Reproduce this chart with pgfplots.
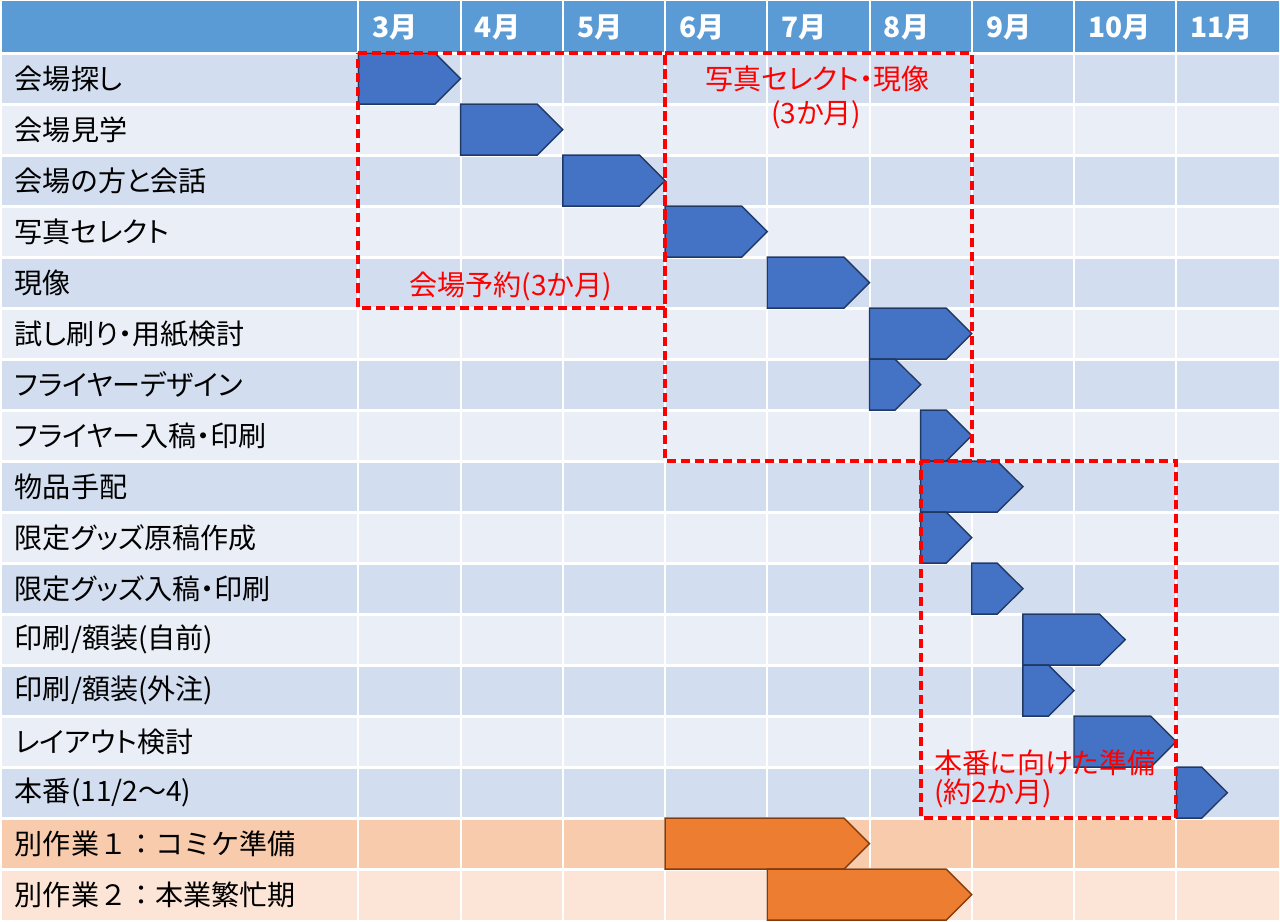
\documentclass[border=0pt]{standalone}
\usepackage{fontspec}
\setmainfont{Noto Sans CJK JP}[RawFeature=+palt]
\newfontfamily\jpfw{Noto Sans CJK JP}
\usepackage{pgfplots}
\pgfplotsset{compat=1.18}
\definecolor{hdr}{HTML}{5B9BD5}
\definecolor{rowA}{HTML}{D2DEEF}
\definecolor{rowB}{HTML}{EAEFF7}
\definecolor{orA}{HTML}{F8CBAD}
\definecolor{orB}{HTML}{FCE4D6}
\definecolor{barB}{HTML}{4472C4}
\definecolor{barBe}{HTML}{203864}
\definecolor{barO}{HTML}{ED7D31}
\definecolor{barOe}{HTML}{843C0C}
\definecolor{redl}{HTML}{FF0000}
\tikzset{rl/.style={inner sep=0pt,text=redl,font=\fontsize{14pt}{16pt}\selectfont},
  tl/.style={anchor=west,inner sep=0pt,font=\fontsize{14pt}{16pt}\selectfont,text=black}}
\newcommand\lab[2]{\node[tl] at (axis cs:-3.363,#1-0.5) {#2};}
\begin{document}
\begin{tikzpicture}
\begin{axis}[width=640pt,height=463.5pt,scale only axis,
  xmin=-3.5098,xmax=9.039,ymin=-1.022,ymax=17.197,y dir=reverse,
  axis lines=none,ticks=none,clip=false,
  bluebar/.style={fill=barB,draw=barBe,line width=0.7pt,line join=miter,mark=none},
  orangebar/.style={fill=barO,draw=barOe,line width=0.7pt,line join=miter,mark=none},
  redbox/.style={draw=redl,line width=1.9pt,dash pattern=on 4.5pt off 2.5pt,fill=none,mark=none}]
% table background
\fill[hdr] (axis cs:-3.49,-1.022) rectangle (axis cs:9,0);
\pgfplotsinvokeforeach{1,3,5,7,9,11,13,15}{\fill[rowA] (axis cs:-3.49,#1-1) rectangle (axis cs:9,#1);}
\pgfplotsinvokeforeach{2,4,6,8,10,12,14}{\fill[rowB] (axis cs:-3.49,#1-1) rectangle (axis cs:9,#1);}
\fill[orA] (axis cs:-3.49,15) rectangle (axis cs:9,16);
\fill[orB] (axis cs:-3.49,16) rectangle (axis cs:9,17);
\pgfplotsinvokeforeach{0,...,16}{\draw[white,line width=1.5pt] (axis cs:-3.49,#1) -- (axis cs:9,#1);}
\pgfplotsinvokeforeach{0,...,8}{\draw[white,line width=1pt] (axis cs:#1,-1.022) -- (axis cs:#1,17);}
% month header
\pgfplotsinvokeforeach{3,...,11}{\node[anchor=west,text=white,font=\fontsize{14pt}{16pt}\selectfont\bfseries,inner sep=0pt] at (axis cs:#1-3+0.137,-0.51) {#1月};}
% task labels
\lab{1}{会場探し}
\lab{2}{会場見学}
\lab{3}{会場の方と会話}
\lab{4}{写真セレクト}
\lab{5}{現像}
\lab{6}{試し刷り・用紙検討}
\lab{7}{フライヤーデザイン}
\lab{8}{フライヤー入稿・印刷}
\lab{9}{物品手配}
\lab{10}{限定グッズ原稿作成}
\lab{11}{限定グッズ入稿・印刷}
\lab{12}{印刷/額装(自前)}
\lab{13}{印刷/額装(外注)}
\lab{14}{レイアウト検討}
\lab{15}{本番(11/2{\jpfw ～}4)}
\lab{16}{{\jpfw 別作業１：コミケ準備}}
\lab{17}{{\jpfw 別作業２：本業繁忙期}}
% task bars (x: months from March, y: row)
\addplot[bluebar] coordinates {(0,0)(0.75,0)(1,0.5)(0.75,1)(0,1)} -- cycle;
\addplot[bluebar] coordinates {(1,1)(1.75,1)(2,1.5)(1.75,2)(1,2)} -- cycle;
\addplot[bluebar] coordinates {(2,2)(2.75,2)(3,2.5)(2.75,3)(2,3)} -- cycle;
\addplot[bluebar] coordinates {(3,3)(3.75,3)(4,3.5)(3.75,4)(3,4)} -- cycle;
\addplot[bluebar] coordinates {(4,4)(4.75,4)(5,4.5)(4.75,5)(4,5)} -- cycle;
\addplot[bluebar] coordinates {(5,5)(5.75,5)(6,5.5)(5.75,6)(5,6)} -- cycle;
\addplot[bluebar] coordinates {(5,6)(5.25,6)(5.5,6.5)(5.25,7)(5,7)} -- cycle;
\addplot[bluebar] coordinates {(5.5,7)(5.75,7)(6,7.5)(5.75,8)(5.5,8)} -- cycle;
\addplot[bluebar] coordinates {(5.5,8)(6.25,8)(6.5,8.5)(6.25,9)(5.5,9)} -- cycle;
\addplot[bluebar] coordinates {(5.5,9)(5.75,9)(6,9.5)(5.75,10)(5.5,10)} -- cycle;
\addplot[bluebar] coordinates {(6,10)(6.25,10)(6.5,10.5)(6.25,11)(6,11)} -- cycle;
\addplot[bluebar] coordinates {(6.5,11)(7.25,11)(7.5,11.5)(7.25,12)(6.5,12)} -- cycle;
\addplot[bluebar] coordinates {(6.5,12)(6.75,12)(7,12.5)(6.75,13)(6.5,13)} -- cycle;
\addplot[bluebar] coordinates {(7,13)(7.75,13)(8,13.5)(7.75,14)(7,14)} -- cycle;
\addplot[bluebar] coordinates {(8,14)(8.25,14)(8.5,14.5)(8.25,15)(8,15)} -- cycle;
\addplot[orangebar] coordinates {(3,15)(4.75,15)(5,15.5)(4.75,16)(3,16)} -- cycle;
\addplot[orangebar] coordinates {(4,16)(5.75,16)(6,16.5)(5.75,17)(4,17)} -- cycle;
% phase boxes
\addplot[redbox] coordinates {(0,0)(3,0)(3,5)(0,5)} -- cycle;
\addplot[redbox] coordinates {(3,0)(6,0)(6,8)(3,8)} -- cycle;
\addplot[redbox] coordinates {(5.5,8)(8,8)(8,15)(5.5,15)} -- cycle;
\node[rl] at (axis cs:1.49,4.57) {会場予約(3か月)};
\node[rl] at (axis cs:4.49,0.51) {写真セレクト・現像};
\node[rl] at (axis cs:4.48,1.216) {(3か月)};
\node[rl,anchor=west] at (axis cs:5.627,13.92) {本番に向けた準備};
\node[rl,anchor=west] at (axis cs:5.627,14.51) {(約2か月)};
\end{axis}
\end{tikzpicture}
\end{document}
